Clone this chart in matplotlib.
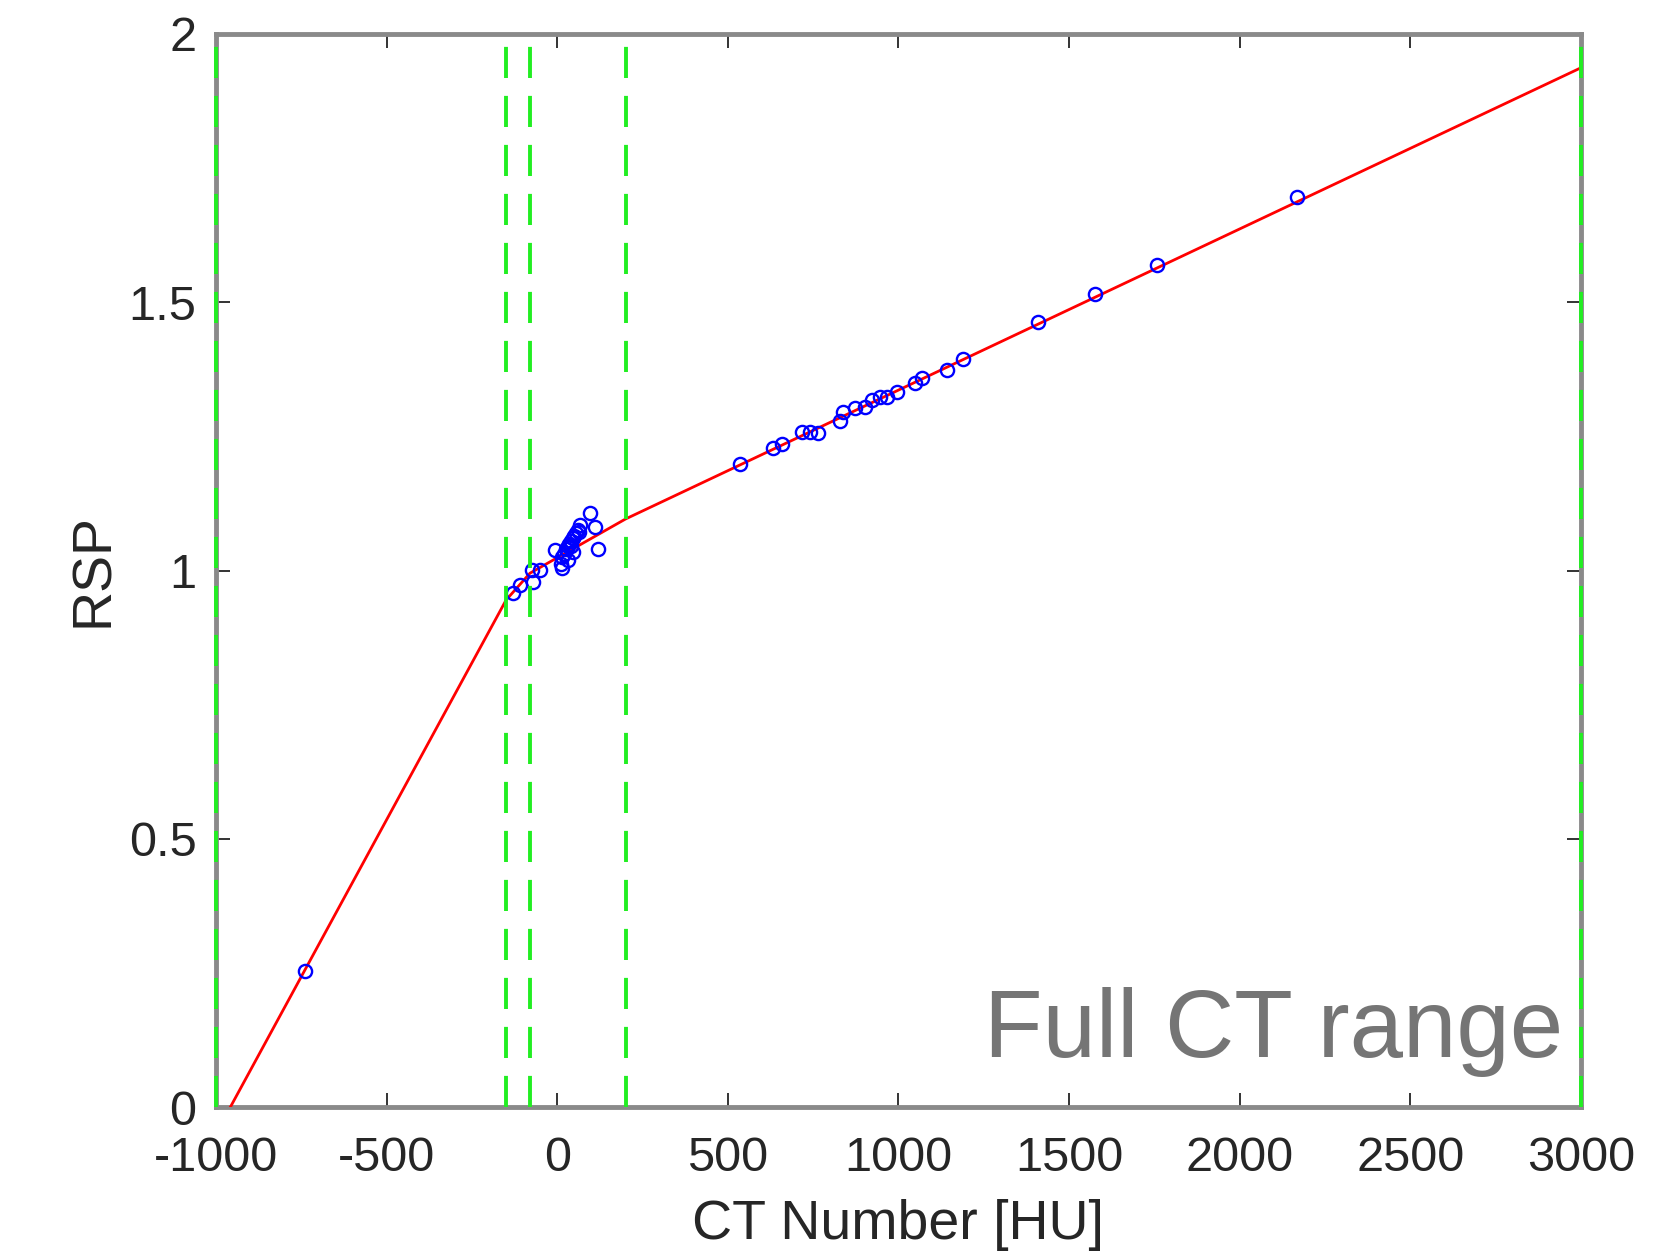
import numpy as np
import matplotlib
matplotlib.use("Agg")
import matplotlib.pyplot as plt

plt.rcParams["font.family"] = ["Liberation Sans", "DejaVu Sans"]
plt.rcParams["axes.unicode_minus"] = False

# Measured calibration points (CT number vs relative stopping power)
ct_hu = [-739, -130, -109, -75, -70, -50, -7, 13,
         10, 15, 20, 25, 30, 35, 40, 45, 50, 55, 30, 45, 60, 40, 65,
         67, 96, 111, 120,
         535, 633, 658, 716, 741, 765, 829, 838, 872, 902, 921, 946, 965, 995,
         1048, 1068, 1141, 1189, 1410, 1575, 1758, 2167]
rsp = [0.254, 0.958, 0.973, 1.001, 0.979, 1.001, 1.038, 1.004,
       1.012, 1.025, 1.030, 1.040, 1.045, 1.050, 1.055, 1.060, 1.065, 1.070, 1.020, 1.035, 1.075, 1.045, 1.072,
       1.085, 1.107, 1.082, 1.041,
       1.199, 1.228, 1.236, 1.259, 1.259, 1.257, 1.279, 1.296, 1.302, 1.305, 1.318, 1.323, 1.324, 1.333,
       1.350, 1.358, 1.374, 1.395, 1.464, 1.515, 1.569, 1.697]

# Piecewise linear calibration curve
curve_hu = [-958, -150, -80, 200, 3000]
curve_rsp = [0.0, 0.945, 0.995, 1.096, 1.937]

# Segment boundaries (dashed green lines)
boundaries = [-1000, -150, -80, 200, 3000]

xticks = [-1000, -500, 0, 500, 1000, 1500, 2000, 2500, 3000]
yticks = [0, 0.5, 1, 1.5, 2]
ytick_labels = ["0", "0.5", "1", "1.5", "2"]

fig = plt.figure(figsize=(16.71, 12.54), dpi=100)
ax = fig.add_axes([0.1293, 0.1172, 0.8168, 0.8557])

ax.plot(curve_hu, curve_rsp, color="red", lw=2.0, zorder=3)
ax.plot(ct_hu, rsp, "o", mfc="none", mec="blue", ms=9.5, mew=1.7, zorder=4)

for b in boundaries:
    ax.plot([b, b], [0, 2], color="#22ee22", lw=2.8, linestyle=(0, (8, 4.6)),
            clip_on=False, zorder=5)

ax.set_xlim(-1000, 3000)
ax.set_ylim(0, 2)
ax.set_xticks(xticks)
ax.set_yticks(yticks)
ax.set_yticklabels(ytick_labels)

for s in ax.spines.values():
    s.set_color("#8a8a8a")
    s.set_linewidth(3.5)

ax.tick_params(direction="in", length=10, width=1.4, color="#333333",
               labelcolor="#262626", labelsize=35, top=True, right=True)
ax.tick_params(axis="x", pad=21)
ax.tick_params(axis="y", pad=14)

ax.set_xlabel("CT Number [HU]", fontsize=40, color="#262626", labelpad=13)
ax.set_ylabel("RSP", fontsize=40, color="#262626", labelpad=6)

ax.text(0.987, 0.0466, "Full CT range", transform=ax.transAxes,
        ha="right", va="baseline", fontsize=69, color="#757575", zorder=6)

fig.savefig("out.png", dpi=100, facecolor="white")
